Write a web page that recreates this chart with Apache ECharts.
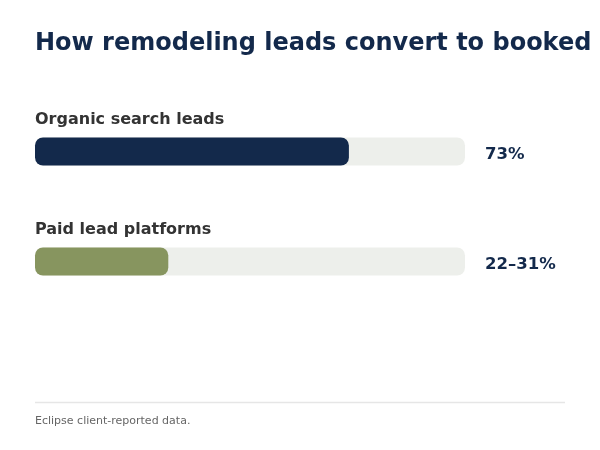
<!DOCTYPE html>
<html>
<head>
<meta charset="utf-8">
<script src="https://cdn.jsdelivr.net/npm/echarts@6/dist/echarts.min.js"></script>
<style>
  html, body { margin: 0; padding: 0; background: #fff; }
  #chart { width: 600px; height: 450px; }
</style>
</head>
<body>
<div id="chart"></div>
<script>
const categories = ['Organic search leads', 'Paid lead platforms'];
const values = [73, 31];
const valueLabels = ['73%', '22–31%'];
const trackMax = [100, 100];
const barColors = ['#13294b', '#87955f'];

const chart = echarts.init(document.getElementById('chart'));
const font = '"DejaVu Sans", sans-serif';

const option = {
  backgroundColor: '#ffffff',
  animation: false,
  textStyle: { fontFamily: font },
  title: [{
    text: 'How remodeling leads convert to booked',
    left: 35,
    top: 31.5,
    padding: 0,
    textStyle: { fontSize: 24, fontWeight: 'bold', color: '#13294b', fontFamily: font }
  }, {
    text: 'Eclipse client-reported data.',
    left: 35,
    top: 415.5,
    padding: 0,
    textStyle: { fontSize: 11, fontWeight: 'normal', color: '#666666', fontFamily: font }
  }],
  graphic: [{
    type: 'line',
    shape: { x1: 35, y1: 402.5, x2: 565, y2: 402.5 },
    style: { stroke: '#e6e6e6', lineWidth: 1.5 }
  }],
  grid: { left: 35, width: 430, top: 96.5, height: 220 },
  xAxis: {
    type: 'value', min: 0, max: 100,
    show: false
  },
  yAxis: {
    type: 'category', data: categories, inverse: true,
    show: false
  },
  series: [{
    type: 'bar',
    data: trackMax,
    barWidth: 28,
    barGap: '-100%',
    silent: true,
    itemStyle: { color: '#edefeb', borderRadius: 8 },
    label: {
      show: true,
      position: 'right',
      distance: 20,
      offset: [0, 3.5],
      fontSize: 16.5,
      fontWeight: 'bold',
      color: '#13294b',
      fontFamily: font,
      formatter: p => valueLabels[p.dataIndex]
    },
    z: 1
  }, {
    type: 'bar',
    data: values.map((v, i) => ({ value: v, itemStyle: { color: barColors[i] } })),
    barWidth: 28,
    itemStyle: { borderRadius: 8 },
    label: {
      show: true,
      position: [0, -17.5],
      verticalAlign: 'middle',
      align: 'left',
      fontSize: 16,
      fontWeight: 'bold',
      color: '#333333',
      fontFamily: font,
      formatter: p => categories[p.dataIndex]
    },
    z: 2
  }]
};

chart.setOption(option);
</script>
</body>
</html>
